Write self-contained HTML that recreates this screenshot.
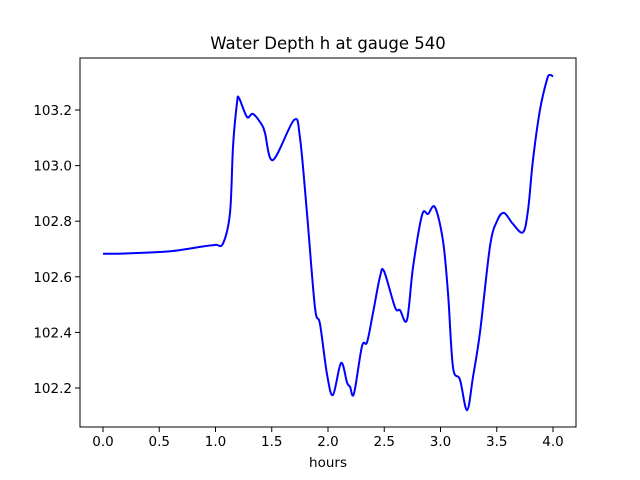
<!DOCTYPE html>
<html><head><meta charset="utf-8"><style>
body{margin:0;background:#fff;}
svg{display:block;font-family:"DejaVu Sans","Liberation Sans",sans-serif;}
</style></head><body>
<svg width="640" height="480" id="c">
<rect width="640" height="480" fill="#fff"/>
<text x="328" y="49" text-anchor="middle" font-size="16.5">Water Depth h at gauge 540</text>
<text x="328" y="467" text-anchor="middle" font-size="13.5">hours</text>
<g id="ticks"></g>
<path id="line" fill="none" stroke="#0000ff" stroke-width="2"/>
<rect x="80" y="58" width="496" height="369" fill="none" stroke="#000" stroke-width="1"/>
</svg>
<script>
const hours=[0,0.2,0.6,0.9,1.0,1.067,1.129,1.156,1.191,1.209,1.28,1.333,1.413,1.44,1.511,1.698,1.751,1.813,1.884,1.929,1.991,2.044,2.116,2.169,2.196,2.231,2.302,2.347,2.40,2.462,2.498,2.596,2.64,2.702,2.756,2.836,2.889,2.951,3.022,3.067,3.111,3.173,3.236,3.289,3.351,3.44,3.502,3.564,3.644,3.733,3.778,3.822,3.884,3.947,3.973,4.0];
const depth=[102.683,102.684,102.692,102.71,102.715,102.72,102.83,103.07,103.225,103.243,103.175,103.186,103.146,103.117,103.02,103.164,103.10,102.83,102.49,102.43,102.25,102.175,102.29,102.22,102.204,102.18,102.35,102.365,102.47,102.60,102.62,102.49,102.48,102.445,102.635,102.822,102.826,102.85,102.73,102.54,102.275,102.23,102.12,102.24,102.40,102.71,102.80,102.83,102.79,102.76,102.84,103.02,103.20,103.31,103.326,103.32];
const xTicks=[0,0.5,1,1.5,2,2.5,3,3.5,4];
const xTickLabels=["0.0","0.5","1.0","1.5","2.0","2.5","3.0","3.5","4.0"];
const yTicks=[102.2,102.4,102.6,102.8,103.0,103.2];
const yTickLabels=["102.2","102.4","102.6","102.8","103.0","103.2"];
const X=h=>103+h*112.5;
const Y=v=>388-(v-102.2)*278;
const NS="http://www.w3.org/2000/svg";
const g=document.getElementById('ticks');
function mk(t,a){const e=document.createElementNS(NS,t);for(const k in a)e.setAttribute(k,a[k]);g.appendChild(e);return e;}
xTicks.forEach((t,i)=>{const x=X(t);
 const l=mk('line',{x1:x,x2:x,y1:427,y2:432,stroke:'#000'});
 
 
 const tx=mk('text',{x:x,y:446,'text-anchor':'middle','font-size':'13.5'});tx.textContent=xTickLabels[i];
 
 
});
yTicks.forEach((t,i)=>{const y=Y(t);
 const l=mk('line',{x1:75,x2:80,y1:y,y2:y,stroke:'#000'});
 
 
 const tx=mk('text',{x:72,y:y+5,'text-anchor':'end','font-size':'13.5'});tx.textContent=yTickLabels[i];
 
 
});
const P=hours.map((h,i)=>[X(h),Y(depth[i])]);
let d='M'+P[0][0]+','+P[0][1];
for(let i=0;i<P.length-1;i++){
 const p0=P[Math.max(0,i-1)],p1=P[i],p2=P[i+1],p3=P[Math.min(P.length-1,i+2)];
 const c1=[p1[0]+(p2[0]-p0[0])/6,p1[1]+(p2[1]-p0[1])/6];
 const c2=[p2[0]-(p3[0]-p1[0])/6,p2[1]-(p3[1]-p1[1])/6];
 d+=' C'+c1[0]+','+c1[1]+' '+c2[0]+','+c2[1]+' '+p2[0]+','+p2[1];
}
document.getElementById('line').setAttribute('d',d);
</script>
</body></html>
